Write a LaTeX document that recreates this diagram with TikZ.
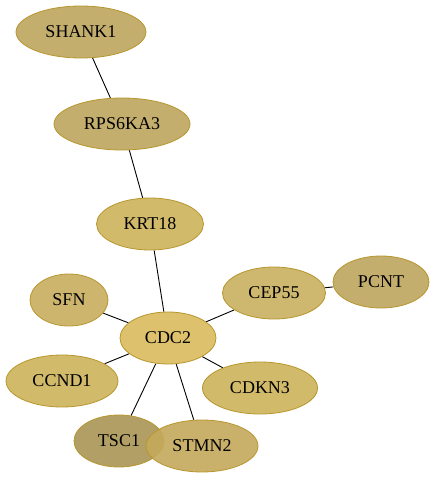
\documentclass[tikz,border=0pt]{standalone}
\usepackage{fontspec}
\setmainfont{Liberation Serif}
\usetikzlibrary{shapes.geometric}
\pgfdeclarelayer{bg}
\pgfsetlayers{bg,main}
\definecolor{cdark}{HTML}{BCA55E}
\definecolor{cmid}{HTML}{CDB25B}
\definecolor{cbright}{HTML}{D9BA5C}
\definecolor{csfn}{HTML}{C8AD5E}
\definecolor{ccep}{HTML}{C9AF5E}
\definecolor{cstm}{HTML}{C4A95B}
\definecolor{ctsc}{HTML}{A99555}
\definecolor{cborder}{HTML}{B8962E}
\newcommand\genefont{\fontsize{18pt}{21pt}\selectfont}
\tikzset{
  gene/.style={ellipse, draw=cborder, line width=0.8pt, fill opacity=0.9, text opacity=1, inner sep=0pt, minimum height=52pt, font=\genefont},
  link/.style={draw=black, line width=0.9pt}
}
\begin{document}
\begin{tikzpicture}[x=1pt,y=-1pt]
\useasboundingbox (0,0) rectangle (436,480);
\node[gene, fill=cdark, minimum width=130pt] (SHANK1) at (81,32) {SHANK1};
\node[gene, fill=cdark, minimum width=136pt] (RPS6KA3) at (122,124) {RPS6KA3};
\node[gene, fill=cmid, minimum width=107pt] (KRT18) at (150,224) {KRT18};
\node[gene, fill=ccep, minimum width=103pt] (CEP55) at (274,293) {CEP55};
\node[gene, fill=cdark, minimum width=96pt] (PCNT) at (381,282) {PCNT};
\node[gene, fill=csfn, minimum width=78pt] (SFN) at (69,300) {SFN};
\node[gene, fill=cbright, minimum width=96pt] (CDC2) at (168,338) {CDC2};
\node[gene, fill=cmid, minimum width=112pt] (CCND1) at (62,381) {CCND1};
\node[gene, fill=cmid, minimum width=115pt] (CDKN3) at (260,388) {CDKN3};
\node[gene, fill=ctsc, minimum width=90pt] (TSC1) at (119,441) {TSC1};
\node[gene, fill=cstm, minimum width=112pt] (STMN2) at (202,446) {STMN2};
\begin{pgfonlayer}{bg}
\draw[link] (SHANK1) -- (RPS6KA3);
\draw[link] (RPS6KA3) -- (KRT18);
\draw[link] (KRT18) -- (CDC2);
\draw[link] (CDC2) -- (SFN);
\draw[link] (CDC2) -- (CEP55);
\draw[link] (CEP55) -- (PCNT);
\draw[link] (CDC2) -- (CCND1);
\draw[link] (CDC2) -- (CDKN3);
\draw[link] (CDC2) -- (TSC1);
\draw[link] (CDC2) -- (STMN2);
\end{pgfonlayer}
\end{tikzpicture}
\end{document}
